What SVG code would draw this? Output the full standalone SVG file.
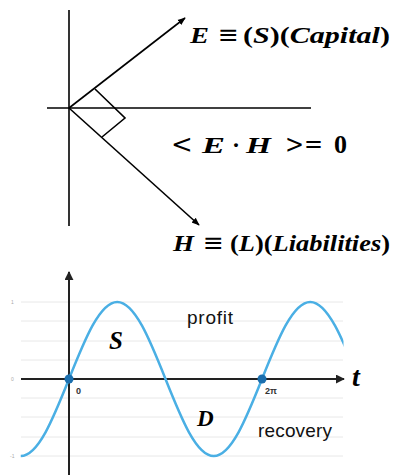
<svg xmlns="http://www.w3.org/2000/svg" width="398" height="475" viewBox="0 0 398 475">
<style>
.ax{stroke:#000;stroke-width:1.6;fill:none}
.ax2{stroke:#222;stroke-width:2;fill:none}
.grid{stroke:#e8e8e8;stroke-width:1}
.m{font-family:"Liberation Serif","DejaVu Serif",serif;font-weight:bold;font-style:italic;fill:#000}
.up{font-family:"Liberation Serif","DejaVu Serif",serif;font-weight:bold;font-style:normal}
.eq{font-family:"DejaVu Serif",serif;font-weight:normal;font-style:normal}
.lbl{font-family:"Liberation Sans",Arial,sans-serif;font-size:19px;fill:#111}
.tick{font-family:"Liberation Sans",Arial,sans-serif;font-size:9px;font-weight:bold;fill:#333}
.tiny{font-family:"Liberation Sans",Arial,sans-serif;font-size:5px;fill:#aaa}
</style>
<defs>
<marker id="ah" viewBox="0 0 10 10" refX="9" refY="5" markerWidth="8" markerHeight="8" orient="auto" markerUnits="userSpaceOnUse">
<path d="M0,1 L10,5 L0,9 Z" fill="#000"/>
</marker>
<marker id="ah2" viewBox="0 0 10 10" refX="9" refY="5" markerWidth="9" markerHeight="9" orient="auto" markerUnits="userSpaceOnUse">
<path d="M0,0 L10,5 L0,10 Z" fill="#222"/>
</marker>
<clipPath id="clip"><rect x="0" y="260" width="343.5" height="215"/></clipPath>
</defs>

<g id="vector-diagram">
<line class="ax" x1="69" y1="10" x2="69" y2="226"/>
<line class="ax" x1="47" y1="108" x2="311" y2="108"/>
<g id="connectors">
<line class="ax" x1="69" y1="108" x2="185" y2="18" marker-end="url(#ah)"/>
<line class="ax" x1="69" y1="108" x2="199" y2="225" marker-end="url(#ah)"/>
<polyline class="ax" points="95,89 125,118 102,137"/>
</g>
<g id="label-E">
<text class="m" x="190" y="43" font-size="24" textLength="19" lengthAdjust="spacingAndGlyphs">E</text>
<text class="eq" x="218" y="43" font-size="25">≡</text>
<text class="m" x="243" y="43" font-size="23" textLength="147" lengthAdjust="spacingAndGlyphs"><tspan class="up">(</tspan>S<tspan class="up">)(</tspan>Capital<tspan class="up">)</tspan></text>
</g>
<g id="label-EH">
<text class="eq" x="171" y="153" font-size="26">&lt;</text>
<text class="m" x="202" y="153" font-size="24" textLength="23" lengthAdjust="spacingAndGlyphs">E</text>
<text class="up" x="232" y="153" font-size="24">·</text>
<text class="m" x="246" y="153" font-size="24" textLength="25" lengthAdjust="spacingAndGlyphs">H</text>
<text class="eq" x="285" y="153" font-size="26" textLength="38" lengthAdjust="spacingAndGlyphs">&gt;=</text>
<text class="up" x="334" y="153" font-size="26">0</text>
</g>
<g id="label-H">
<text class="m" x="173" y="251" font-size="23" textLength="21" lengthAdjust="spacingAndGlyphs">H</text>
<text class="eq" x="203" y="251" font-size="25">≡</text>
<text class="m" x="230" y="251" font-size="23" textLength="160" lengthAdjust="spacingAndGlyphs"><tspan class="up">(</tspan>L<tspan class="up">)(</tspan>Liabilities<tspan class="up">)</tspan></text>
</g>
</g>

<g id="sine-chart">
<g id="grid">
<line class="grid" x1="21" y1="302" x2="343" y2="302"/>
<line class="grid" x1="21" y1="321" x2="343" y2="321"/>
<line class="grid" x1="21" y1="341" x2="343" y2="341"/>
<line class="grid" x1="21" y1="360" x2="343" y2="360"/>
<line class="grid" x1="21" y1="398" x2="343" y2="398"/>
<line class="grid" x1="21" y1="417" x2="343" y2="417"/>
<line class="grid" x1="21" y1="437" x2="343" y2="437"/>
<line class="grid" x1="21" y1="456" x2="343" y2="456"/>
<text class="tiny" x="11" y="304">1</text>
<text class="tiny" x="11" y="381">0</text>
<text class="tiny" x="10" y="458">-1</text>
</g>
<g id="axes">
<line class="ax2" x1="21" y1="379" x2="344" y2="379" marker-end="url(#ah2)"/>
<line class="ax2" x1="69" y1="475" x2="69" y2="272" marker-end="url(#ah2)"/>
</g>
<path id="sine" clip-path="url(#clip)" fill="none" stroke="#4aafe4" stroke-width="2.5" d="M20.75,456 c17.44,0 32.51,-37.55 48.25,-77 c15.74,-39.45 30.81,-77 48.25,-77 c17.44,0 32.51,37.55 48.25,77 c15.74,39.45 30.81,77 48.25,77 c17.44,0 32.51,-37.55 48.25,-77 c15.74,-39.45 30.81,-77 48.25,-77 c17.44,0 32.51,37.55 48.25,77"/>
<g id="points">
<circle cx="69" cy="379" r="4.5" fill="#1b6fae"/>
<circle cx="262" cy="379" r="4.5" fill="#1b6fae"/>
<text class="tick" x="76" y="394">0</text>
<text class="tick" x="265" y="394">2π</text>
</g>
<g id="labels">
<text class="m" x="109" y="349" font-size="25">S</text>
<text class="lbl" x="187" y="324" textLength="46">profit</text>
<text class="m" x="197" y="426" font-size="23">D</text>
<text class="lbl" x="258" y="437" textLength="74">recovery</text>
<text font-family="Liberation Serif,serif" font-style="italic" font-weight="bold" font-size="28" x="352" y="386" fill="#000">t</text>
</g>
</g>
</svg>
